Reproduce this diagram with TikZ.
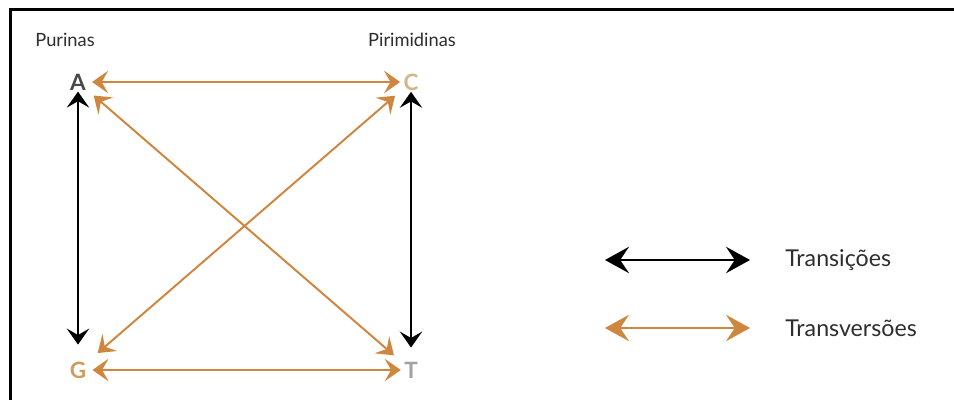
\documentclass[tikz,border=0pt]{standalone}
\usepackage{fontspec}
\setmainfont{Lato}
\usetikzlibrary{arrows.meta, positioning}
\definecolor{trorange}{HTML}{CF863E}
\definecolor{basA}{HTML}{484848}
\definecolor{basC}{HTML}{D2B68C}
\definecolor{basG}{HTML}{D29A5C}
\definecolor{basT}{HTML}{A2A2A2}
\definecolor{txtgray}{HTML}{2E2E2E}

\begin{document}
\begin{tikzpicture}[
  >={Stealth[length=4mm, width=5.6mm, inset=1.6mm]},
  bigtip/.style={>={Stealth[length=6mm, width=6.6mm, inset=2.2mm]}},
  base/.style={font=\fontsize{16}{16}\selectfont\bfseries, inner sep=0pt},
  grp/.style={font=\fontsize{13}{15}\selectfont, text=txtgray},
  legtxt/.style={font=\fontsize{16.5}{18}\selectfont, text=txtgray, anchor=west, inner sep=0pt},
  ti/.style={<->, line width=1.6pt, black},
  tv/.style={<->, line width=1.4pt, trorange},
]

% Page and frame
\useasboundingbox (0,0) rectangle (23.85,10);
\fill[white] (0,0) rectangle (23.85,10);
\draw[line width=2.2pt] (0.2625,-1) |- (25,9.7625);

% =============================================
% Bases
% =============================================
\node[base, text=basA] (A) at (1.95,7.95) {A};
\node[base, text=basC] (C) at (10.275,7.95) {C};
\node[base, text=basG] (G) at (1.95,0.75) {G};
\node[base, text=basT] (T) at (10.275,0.75) {T};

\node[grp] (purinas) at (1.625,9.0) {Purinas};
\node[grp] (pirimidinas) at (10.3,9.0) {Pirimidinas};

% Transitions (black)
\draw[ti, shorten <=0.3mm, shorten >=4.2mm] (A) -- (G);
\draw[ti, shorten <=0.3mm, shorten >=3.5mm] (C) -- (T);

% Transversions (orange)
\draw[tv, shorten <=1.5mm, shorten >=0.8mm] (A) -- (C);
\draw[tv, shorten <=1.5mm, shorten >=0.8mm] (G) -- (T);
\draw[tv, shorten <=2.5mm, shorten >=3.3mm] (A) -- (T);
\draw[tv, shorten <=2.7mm, shorten >=3.7mm] (C) -- (G);

% =============================================
% Legend
% =============================================
\node[legtxt] (transicoes) at (19.625,3.5) {Transições};
\node[legtxt] (transversoes) at (19.625,1.8) {Transversões};

\draw[ti, bigtip] ([xshift=-45mm]transicoes.west) -- ([xshift=-8.75mm]transicoes.west);
\draw[tv, bigtip] ([xshift=-45mm]transversoes.west) -- ([xshift=-8.75mm]transversoes.west);

\end{tikzpicture}
\end{document}
